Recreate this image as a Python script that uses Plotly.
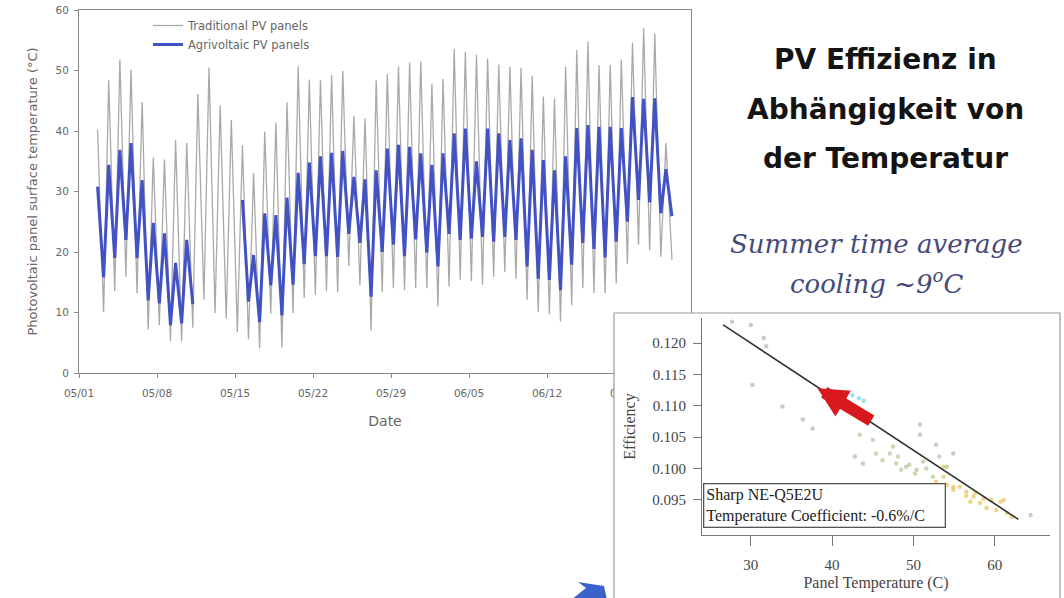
import pandas as pd
import plotly.graph_objects as go

# ---- Panel surface temperature (deg C): daily maxima and the following minima ----
# first maximum on 2018-05-02, one value per day
trad_peak = [40.2, 48.4, 51.8, 50.1, 44.8, 35.6, 35.3, 38.5, 38.0, 46.1,
             50.5, 44.2, 41.8, 37.7, 33.1, 39.9, 41.4, 44.7, 50.7, 48.5,
             48.4, 49.2, 49.9, 42.5, 42.1, 48.4, 49.4, 50.7, 51.3, 51.5,
             47.8, 48.6, 53.6, 53.1, 52.6, 52.0, 51.0, 50.6, 50.4, 49.1,
             45.7, 45.4, 50.6, 53.4, 54.8, 50.9, 50.9, 51.8, 54.6, 57.0,
             56.1, 38.0]
trad_min = [10.1, 13.5, 15.9, 13.2, 7.2, 7.9, 5.3, 5.2, 7.5, 12.1,
            9.9, 9.0, 6.8, 5.6, 4.1, 9.8, 4.2, 9.9, 12.4, 12.9,
            13.5, 13.3, 17.7, 14.5, 7.0, 13.4, 14.0, 13.7, 14.0, 14.0,
            11.0, 14.3, 15.4, 15.2, 14.6, 15.9, 16.7, 15.6, 12.1, 10.1,
            9.7, 8.5, 11.2, 14.0, 13.2, 13.2, 14.8, 18.0, 21.2, 20.3,
            19.2, 18.7]
agri_peak = [30.8, 34.4, 36.9, 38.0, 31.9, 24.8, 23.1, 18.2, 22.0, None,
             None, None, None, 28.6, 19.5, 26.4, 26.1, 29.0, 33.1, 34.8,
             35.8, 36.4, 36.7, 32.4, 32.0, 33.5, 37.1, 37.7, 37.4, 36.3,
             34.4, 36.3, 39.6, 40.4, 35.0, 40.4, 39.6, 38.5, 38.8, 36.9,
             35.2, 33.5, 35.8, 40.5, 41.0, 40.7, 40.7, 40.5, 45.6, 45.3,
             45.4, 33.7]
agri_min = [15.8, 19.0, 22.0, 19.0, 12.0, 11.5, 7.9, 8.2, 11.4, None,
            None, None, None, 11.8, 8.4, 14.5, 9.5, 14.6, 18.0, 19.3,
            19.3, 19.2, 23.0, 21.5, 12.6, 20.0, 21.2, 19.3, 22.1, 19.9,
            17.6, 23.0, 22.0, 22.2, 22.5, 21.7, 22.5, 22.0, 17.6, 15.6,
            15.4, 13.7, 17.9, 21.5, 20.5, 19.1, 21.7, 25.0, 28.6, 28.2,
            26.4, 25.9]

peak_times = pd.date_range("2018-05-02 16:00", periods=len(trad_peak), freq="D")
min_times = peak_times + pd.Timedelta(hours=13)


def day_night(peaks, mins):
    t, v = [], []
    for pt, mt, p, m in zip(peak_times, min_times, peaks, mins):
        t += [pt, mt]
        v += [p, m]
    return t, v


# ---- Efficiency vs panel temperature (Sharp NE-Q5E2U) ----
gray_temp = [27.7, 30.0, 31.6, 31.9, 30.2, 33.9, 36.4, 37.6, 42.8, 43.8, 50.8, 50.8, 52.8, 54.9, 64.4]
gray_eff = [0.1234, 0.1229, 0.1208, 0.1195, 0.1133, 0.1099, 0.1078, 0.1064, 0.1019, 0.1008,
            0.1070, 0.1054, 0.1038, 0.1024, 0.0926]
green_temp = [43.4, 45.0, 45.4, 46.2, 47.1, 47.5, 47.9, 48.1, 48.5, 49.1, 49.5, 50.2, 50.4,
              51.2, 51.6, 52.4, 53.2, 54.1]
green_eff = [0.1054, 0.1046, 0.1024, 0.1013, 0.1024, 0.1035, 0.1008, 0.1019, 0.0998, 0.1003,
             0.1006, 0.0992, 0.0998, 0.1011, 0.1000, 0.0987, 0.1019, 0.1003]
yellow_temp = [52.8, 53.7, 53.7, 54.1, 54.9, 54.9, 55.7, 56.5, 56.5, 57.0, 57.4, 57.6, 58.2,
               58.6, 59.0, 59.6, 60.2, 60.7, 61.1, 61.5, 62.1]
yellow_eff = [0.0979, 0.1003, 0.0987, 0.0974, 0.0966, 0.0971, 0.0971, 0.0956, 0.0963, 0.0947,
              0.0955, 0.0961, 0.0945, 0.0952, 0.0937, 0.0950, 0.0934, 0.0947, 0.0950, 0.0929,
              0.0923]
cyan_temp = [42.5, 43.3, 43.9]
cyan_eff = [0.1117, 0.1112, 0.1108]
fit_temp = [26.6, 62.9]
fit_eff = [0.1229, 0.0919]
shift_from = (45.0, 0.1075)   # warmer, less efficient
shift_to = (38.2, 0.1128)     # cooled agrivoltaic panels

W, H = 1064, 598


def px(x):
    return x / W


def py(y):
    return 1 - y / H


fig = go.Figure()

t, v = day_night(trad_peak, trad_min)
fig.add_trace(go.Scatter(x=t, y=v, mode="lines", name="Traditional PV panels",
                         line=dict(color="#a9a9a9", width=1.3), xaxis="x", yaxis="y"))
t, v = day_night(agri_peak, agri_min)
fig.add_trace(go.Scatter(x=t, y=v, mode="lines", name="Agrivoltaic PV panels",
                         line=dict(color="#4252c4", width=3), connectgaps=False,
                         xaxis="x", yaxis="y"))

# empty subplot whose white background frames the inset
fig.add_trace(go.Scatter(x=[], y=[], xaxis="x2", yaxis="y2", showlegend=False, hoverinfo="skip"))

for tx, ey, col in [(gray_temp, gray_eff, "rgba(150,150,150,0.5)"),
                    (green_temp, green_eff, "rgba(150,175,110,0.5)"),
                    (yellow_temp, yellow_eff, "rgba(232,190,70,0.65)"),
                    (cyan_temp, cyan_eff, "rgba(140,215,240,0.8)")]:
    fig.add_trace(go.Scatter(x=tx, y=ey, mode="markers", showlegend=False,
                             marker=dict(color=col, size=4.5), xaxis="x3", yaxis="y3"))
fig.add_trace(go.Scatter(x=fit_temp, y=fit_eff, mode="lines", showlegend=False,
                         line=dict(color="#333333", width=1.6), xaxis="x3", yaxis="y3"))

sans = "DejaVu Sans"
serif = "Liberation Serif"
axis_gray = "#8a8a8a"

fig.update_layout(
    width=W, height=H, margin=dict(l=0, r=0, t=0, b=0),
    template="none", paper_bgcolor="white", plot_bgcolor="white",
    showlegend=True,
    legend=dict(x=px(148), y=py(11), xanchor="left", yanchor="top",
                font=dict(family=sans, size=11.5, color="#666"), bgcolor="rgba(0,0,0,0)",
                itemwidth=30, tracegroupgap=0),
    xaxis=dict(domain=[px(79), px(691)], anchor="y", type="date",
               range=["2018-05-01", "2018-06-24 22:00"], tick0="2018-05-01",
               dtick=7 * 86400000, tickformat="%m/%d",
               showline=True, mirror=True, linecolor=axis_gray, linewidth=1,
               ticks="outside", ticklen=4, tickcolor=axis_gray, ticklabelstandoff=6,
               tickfont=dict(family=sans, size=10.5, color="#666"),
               showgrid=False, zeroline=False,
               title=dict(text="Date", font=dict(family=sans, size=14, color="#666"), standoff=18)),
    yaxis=dict(domain=[py(373), py(10)], anchor="x", range=[0, 60], dtick=10,
               showline=True, mirror=True, linecolor=axis_gray, linewidth=1,
               ticks="outside", ticklen=4, tickcolor=axis_gray, ticklabelstandoff=3,
               tickfont=dict(family=sans, size=10.5, color="#666"),
               showgrid=False, zeroline=False,
               title=dict(text="Photovoltaic panel surface temperature (°C)",
                          font=dict(family=sans, size=13, color="#666"), standoff=14)),
    xaxis2=dict(domain=[px(614), 1], anchor="y2", range=[0, 1], visible=False, fixedrange=True),
    yaxis2=dict(domain=[0, py(313)], anchor="x2", range=[0, 1], visible=False, fixedrange=True),
    xaxis3=dict(domain=[px(702), px(1050)], anchor="y3", range=[24, 66.8],
                tickvals=[30, 40, 50, 60], showline=True, linecolor="#777", linewidth=1.2,
                ticks="outside", ticklen=10, tickcolor="#777", ticklabelstandoff=6,
                tickfont=dict(family=serif, size=15, color="#444"),
                showgrid=False, zeroline=False,
                title=dict(text="Panel Temperature (C)",
                           font=dict(family=serif, size=16, color="#444"), standoff=4)),
    yaxis3=dict(domain=[py(535), py(318)], anchor="x3", range=[0.0894, 0.1240],
                tickvals=[0.095, 0.100, 0.105, 0.110, 0.115, 0.120], tickformat=".3f",
                showline=True, linecolor="#777", linewidth=1.2,
                ticks="outside", ticklen=8, tickcolor="#777", ticklabelstandoff=4,
                tickfont=dict(family=serif, size=15, color="#444"),
                showgrid=False, zeroline=False,
                title=dict(text="Efficiency", font=dict(family=serif, size=16, color="#444"),
                           standoff=12)),
)

# inset frame
fig.add_shape(type="rect", xref="paper", yref="paper", x0=px(614), x1=px(1060),
              y0=py(313), y1=-0.1, line=dict(color="#9a9a9a", width=1.2), layer="above")

# partial blue block arrow at the lower edge
fig.add_shape(type="path", xref="paper", yref="paper", layer="above",
              path="M %f,%f L %f,%f L %f,%f L %f,%f L %f,%f Z" % (
                  px(571), py(600), px(586), py(588), px(578), py(582),
                  px(604), py(586), px(607), py(600)),
              fillcolor="#3a62c8", line=dict(width=0))

title_font = dict(family=sans, size=28, color="#141414", weight="bold")
for text, yc in [("PV Effizienz in", 59), ("Abhängigkeit von", 109), ("der Temperatur", 158)]:
    fig.add_annotation(text=text, x=px(885), y=py(yc), xref="paper", yref="paper",
                       xanchor="center", yanchor="middle", showarrow=False, font=title_font)

sub_font = dict(family="DejaVu Serif", size=26, color="#454a7a", style="italic")
for text, yc in [("Summer time average", 244), ("cooling ~9<sup>o</sup>C", 282)]:
    fig.add_annotation(text=text, x=px(876), y=py(yc), xref="paper", yref="paper",
                       xanchor="center", yanchor="middle", showarrow=False, font=sub_font)

# module label box
fig.add_annotation(text="Sharp NE-Q5E2U<br>Temperature Coefficient: -0.6%/C",
                   x=px(703), y=py(483), xref="paper", yref="paper",
                   xanchor="left", yanchor="top", align="left", showarrow=False,
                   width=236, bgcolor="white", bordercolor="#555", borderwidth=1.3, borderpad=2,
                   font=dict(family=serif, size=16, color="#222"))

# efficiency gain from cooling: red arrow along the fit line
fig.add_annotation(x=shift_to[0], y=shift_to[1], ax=shift_from[0], ay=shift_from[1],
                   xref="x3", yref="y3", axref="x3", ayref="y3", text="",
                   showarrow=True, arrowhead=2, arrowsize=0.5, arrowwidth=12,
                   arrowcolor="#d8181c")

fig.write_html("out.html")
